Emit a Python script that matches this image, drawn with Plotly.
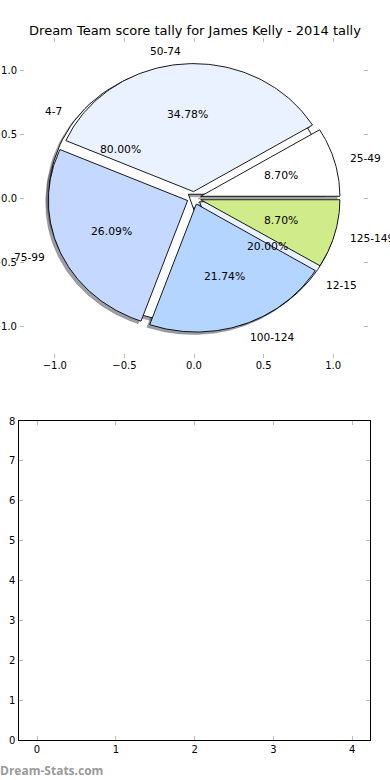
import numpy as np
import plotly.graph_objects as go

# ---------------- data ----------------
main_labels = ['25-49', '50-74', '75-99', '100-124', '125-149']
main_values = [2, 8, 6, 5, 2]
extra_labels = ['4-7', '12-15']
extra_values = [4, 1]
wedge_colors = ['#FFFFFF', '#EAF1FF', '#C5D8FF', '#B4D5FF', '#D0EB8A']
bar_categories = [0, 1, 2, 3, 4]
bar_values = [0, 0, 0, 0, 0]
pie_ticks = [-1.0, -0.5, 0.0, 0.5, 1.0]
bar_yticks = [0, 1, 2, 3, 4, 5, 6, 7, 8]

title_text = 'Dream Team score tally for James Kelly - 2014 tally'
watermark = 'Dream-Stats.com'

EXPLODE = 0.05
SHADOW_DX, SHADOW_DY = -0.02, -0.02
FONT = 'DejaVu Sans'


def hex_rgb(h):
    h = h.lstrip('#')
    return tuple(int(h[i:i + 2], 16) for i in (0, 2, 4))


def wedge_geometry(values):
    fr = np.asarray(values, dtype=float) / float(sum(values))
    ends = np.cumsum(fr) * 360.0
    starts = np.concatenate([[0.0], ends[:-1]])
    out = []
    for s, e, f in zip(starts, ends, fr):
        mid = np.deg2rad((s + e) / 2.0)
        cx, cy = EXPLODE * np.cos(mid), EXPLODE * np.sin(mid)
        t = np.deg2rad(np.linspace(s, e, 120))
        xs = np.concatenate([[cx], cx + np.cos(t), [cx]])
        ys = np.concatenate([[cy], cy + np.sin(t), [cy]])
        out.append(dict(xs=xs, ys=ys, cx=cx, cy=cy, mid=mid, pct=f * 100.0))
    return out


extra_geo = wedge_geometry(extra_values)
main_geo = wedge_geometry(main_values)

fig = go.Figure()

# shadows (drawn under all wedges)
for geo in (extra_geo, main_geo):
    for i, g in enumerate(geo):
        r, gg, b = hex_rgb(wedge_colors[i % len(wedge_colors)])
        sc = 'rgba(%d,%d,%d,0.5)' % (int(0.3 * r), int(0.3 * gg), int(0.3 * b))
        fig.add_trace(go.Scatter(
            x=g['xs'] + SHADOW_DX, y=g['ys'] + SHADOW_DY, mode='lines',
            fill='toself', fillcolor=sc, line=dict(color=sc, width=0.5),
            hoverinfo='skip', xaxis='x', yaxis='y'))

# wedges
for geo, labels in ((extra_geo, extra_labels), (main_geo, main_labels)):
    for i, g in enumerate(geo):
        fig.add_trace(go.Scatter(
            x=g['xs'], y=g['ys'], mode='lines', fill='toself',
            fillcolor=wedge_colors[i % len(wedge_colors)],
            line=dict(color='black', width=0.9),
            name=labels[i], hoverinfo='name', xaxis='x', yaxis='y'))

annotations = []
for geo, labels in ((extra_geo, extra_labels), (main_geo, main_labels)):
    for i, g in enumerate(geo):
        lx = g['cx'] + 1.1 * np.cos(g['mid'])
        ly = g['cy'] + 1.1 * np.sin(g['mid'])
        annotations.append(dict(
            x=lx, y=ly, xref='x', yref='y', text=labels[i], showarrow=False,
            xanchor='left' if lx > 0 else 'right', yanchor='middle',
            font=dict(family=FONT, size=10.6, color='black')))
        px = g['cx'] + 0.6 * np.cos(g['mid'])
        py = g['cy'] + 0.6 * np.sin(g['mid'])
        annotations.append(dict(
            x=px, y=py, xref='x', yref='y', text='%.2f%%' % g['pct'],
            showarrow=False, xanchor='center', yanchor='middle',
            font=dict(family=FONT, size=10.8, color='black')))

# empty bar panel
fig.add_trace(go.Bar(x=bar_categories, y=bar_values, xaxis='x2', yaxis='y2',
                     marker=dict(color='#B4D5FF', line=dict(width=0)),
                     hoverinfo='skip'))

annotations.append(dict(
    x=-0.004, y=1 - 770 / 780, xref='paper', yref='paper', text='<b>' + watermark + '</b>',
    showarrow=False, xanchor='left', yanchor='middle',
    font=dict(family='Open Sans', size=12, color='#9a9a9a')))

W, H = 390, 780
tick_common = dict(ticks='inside', ticklen=4, tickwidth=1, tickcolor='#bbbbbb',
                   showgrid=False, zeroline=False, automargin=False,
                   tickfont=dict(family=FONT, size=10, color='black'))

fig.update_layout(
    width=W, height=H,
    margin=dict(l=0, r=0, t=0, b=0, pad=0, autoexpand=False),
    paper_bgcolor='white', plot_bgcolor='rgba(0,0,0,0)',
    showlegend=False,
    font=dict(family=FONT, size=10, color='black'),
    title=dict(text=title_text, x=0.5, xanchor='center', xref='paper',
               y=1 - 30 / H, yanchor='middle', yref='paper', automargin=False,
               font=dict(family=FONT, size=13, color='black')),
    xaxis=dict(domain=[20 / W, 368 / W], range=[-1.25, 1.25],
               tickvals=pie_ticks, tickformat='.1f', showline=False,
               mirror='ticks', anchor='y', **tick_common),
    yaxis=dict(domain=[1 - 358 / H, 1 - 38 / H], range=[-1.25, 1.25],
               tickvals=pie_ticks, tickformat='.1f', showline=False,
               mirror='ticks', anchor='x', ticklabelstandoff=2, **tick_common),
    xaxis2=dict(domain=[19.3 / W, 370 / W], range=[-0.225, 4.225],
                tickvals=bar_categories, showline=True, linecolor='black',
                linewidth=1, mirror='ticks', anchor='y2', **tick_common),
    yaxis2=dict(domain=[1 - 740 / H, 1 - 421 / H], range=[0, 8],
                tickvals=bar_yticks, showline=True, linecolor='black',
                linewidth=1, mirror='ticks', anchor='x2', ticklabelstandoff=1,
                **tick_common),
    annotations=annotations,
)

fig.write_html('out.html', config={'displayModeBar': False},
               post_script="document.body.style.margin='0';document.body.style.padding='0';")
